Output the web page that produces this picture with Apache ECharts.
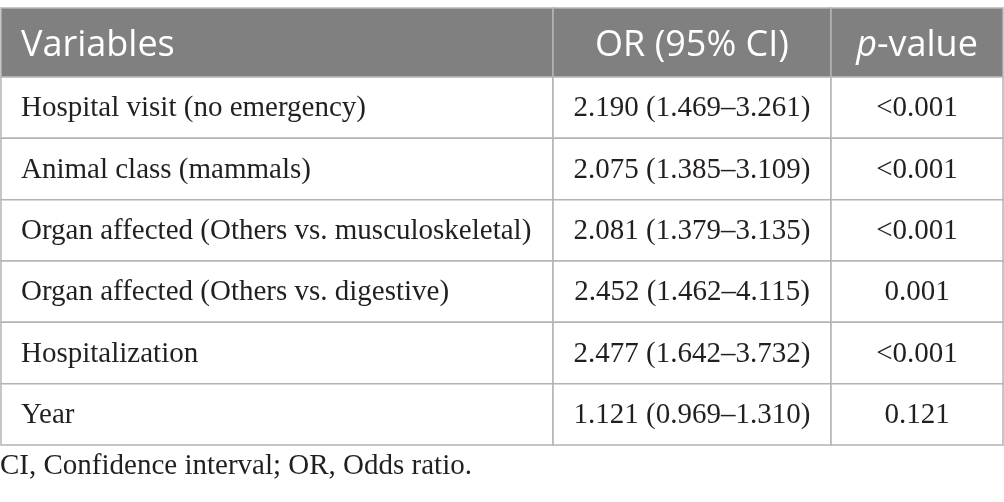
<!DOCTYPE html>
<html>
<head>
<meta charset="utf-8">
<script src="https://cdn.jsdelivr.net/npm/echarts@6/dist/echarts.min.js"></script>
<style>
  html, body { margin: 0; padding: 0; background: #fff; }
  #tabla { width: 1004px; height: 502px; }
</style>
</head>
<body>
<div id="tabla"></div>
<script>
// datos de la tabla
var columnas = ['Variables', 'OR (95% CI)', 'p-value'];
var variables = [
	'Hospital visit (no emergency)',
	'Animal class (mammals)',
	'Organ affected (Others vs. musculoskeletal)',
	'Organ affected (Others vs. digestive)',
	'Hospitalization',
	'Year'
];
var orValor = [2.190, 2.075, 2.081, 2.452, 2.477, 1.121];
var ciInferior = [1.469, 1.385, 1.379, 1.462, 1.642, 0.969];
var ciSuperior = [3.261, 3.109, 3.135, 4.115, 3.732, 1.310];
var pValor = ['<0.001', '<0.001', '<0.001', '0.001', '<0.001', '0.121'];
var nota = 'CI, Confidence interval; OR, Odds ratio.';

// bordes de columnas en unidades del eje x (0..1002)
var bordes = [0, 552, 830, 1002];
var colorBorde = '#b4b4b4';
var fuenteCuerpo = '29px "Liberation Serif", serif';
var fuenteCabecera = '36px "Open Sans", sans-serif';

function textoOR(i) {
	return orValor[i].toFixed(3) + ' (' + ciInferior[i].toFixed(3) + '\u2013' + ciSuperior[i].toFixed(3) + ')';
}

function renderFila(params, api) {
	var fila = api.value(1);
	var medio = api.coord([0, fila])[1];
	var alto = api.size([0, 1])[1];
	var arriba = medio - alto / 2;
	var hijos = [];
	var xs = bordes.map(function (b) { return api.coord([b, fila])[0]; });

	for (var c = 0; c < 3; c++) {
		hijos.push({
			type: 'rect',
			shape: { x: xs[c], y: arriba, width: xs[c + 1] - xs[c], height: alto },
			style: { fill: '#fff', stroke: colorBorde, lineWidth: 1.5 }
		});
	}
	var textos = [
		{ t: variables[fila], x: xs[0] + 20, a: 'left' },
		{ t: textoOR(fila), x: (xs[1] + xs[2]) / 2, a: 'center' },
		{ t: pValor[fila], x: (xs[2] + xs[3]) / 2, a: 'center' }
	];
	textos.forEach(function (item) {
		hijos.push({
			type: 'text',
			x: item.x,
			y: medio + 1,
			style: {
				text: item.t,
				font: fuenteCuerpo,
				fill: '#231f20',
				textAlign: item.a,
				textVerticalAlign: 'middle',
				align: item.a,
				verticalAlign: 'middle'
			}
		});
	});
	return { type: 'group', children: hijos };
}

function initTabla(divName) {
	var dom = document.getElementById(divName);
	var myChart = echarts.init(dom);
	var datos = variables.map(function (v, i) { return [0, i]; });

	// cabecera
	var cab = [];
	var topCab = 8, altoCab = 69;
	var yCab = topCab + altoCab / 2 + 3;
	for (var c = 0; c < 3; c++) {
		cab.push({
			type: 'rect',
			shape: { x: 1 + bordes[c], y: topCab, width: bordes[c + 1] - bordes[c], height: altoCab },
			style: { fill: '#7f807f', stroke: colorBorde, lineWidth: 1.5 }
		});
	}
	cab.push({
		type: 'text', x: 21, y: yCab,
		style: { text: columnas[0], font: fuenteCabecera, fill: '#fff', textAlign: 'left', textVerticalAlign: 'middle', align: 'left', verticalAlign: 'middle' }
	});
	cab.push({
		type: 'text', x: 1 + (bordes[1] + bordes[2]) / 2, y: yCab,
		style: { text: columnas[1], font: fuenteCabecera, fill: '#fff', textAlign: 'center', textVerticalAlign: 'middle', align: 'center', verticalAlign: 'middle' }
	});
	cab.push({
		type: 'text', x: 1 + (bordes[2] + bordes[3]) / 2, y: yCab,
		style: {
			text: '{i|p}{n|-value}',
			textAlign: 'center', textVerticalAlign: 'middle', align: 'center', verticalAlign: 'middle',
			rich: {
				i: { font: 'italic ' + fuenteCabecera, fill: '#fff', color: '#fff' },
				n: { font: fuenteCabecera, fill: '#fff', color: '#fff' }
			}
		}
	});
	cab.push({
		type: 'text', x: 0, y: 466,
		style: { text: nota, font: fuenteCuerpo, fill: '#231f20', textAlign: 'left', textVerticalAlign: 'middle', align: 'left', verticalAlign: 'middle' }
	});

	var option = {
		animation: false,
		grid: { left: 1, right: 1, top: 77, height: 368 },
		xAxis: { type: 'value', min: 0, max: 1002, show: false },
		yAxis: { type: 'category', data: variables, inverse: true, show: false },
		graphic: cab,
		series: [
			{
				type: 'custom',
				renderItem: renderFila,
				encode: { x: 0, y: 1 },
				data: datos
			}
		]
	};

	if (option && typeof option === "object") {
		myChart.setOption(option, true);
	}
}

initTabla('tabla');
</script>
</body>
</html>
